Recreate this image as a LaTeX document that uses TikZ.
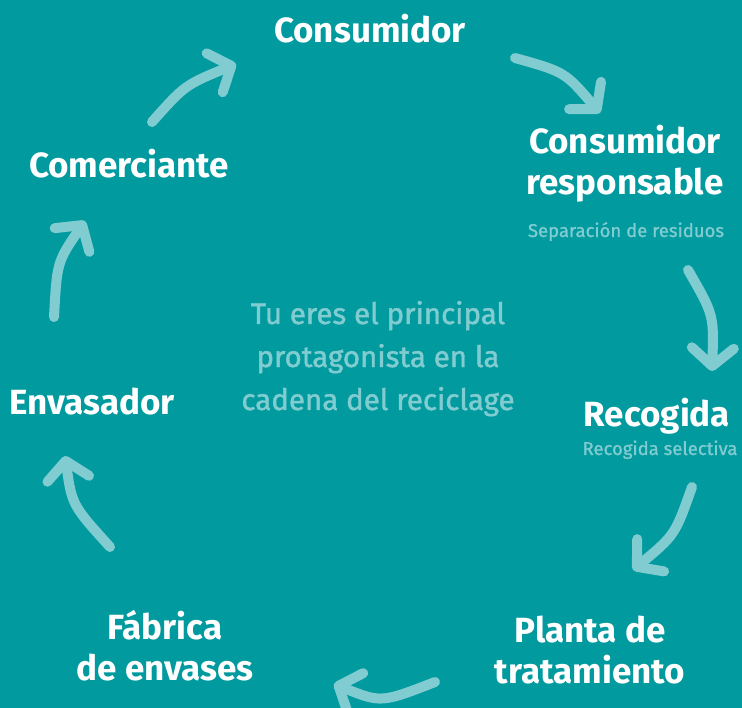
\documentclass[tikz,border=0pt]{standalone}
\usepackage{fontspec}
\setmainfont{Fira Sans}
\usetikzlibrary{arrows.meta}
\definecolor{bg}{RGB}{0,154,159}
\definecolor{lt}{RGB}{128,204,208}
\tikzset{
  title/.style={text=white, font={\bfseries\fontsize{35}{41}\selectfont}, align=center, inner sep=0pt, anchor=base},
  sub/.style={text=lt, font={\addfontfeatures{FakeBold=1.2}\fontsize{18.5}{22}\selectfont}, inner sep=0pt, anchor=base},
  centertext/.style={text=lt, font={\addfontfeatures{FakeBold=1.5}\fontsize{29.5}{43}\selectfont}, align=center, inner sep=0pt, anchor=base},
  flow/.style={draw=lt, line width=10pt, line cap=round, -{Straight Barb[round, length=18pt, width=42pt]}}
}
\begin{document}
\begin{tikzpicture}[x=1pt, y=-1pt]
\fill[bg] (0,0) rectangle (742,708);
\useasboundingbox (0,0) rectangle (742,708);
% labels (multi-line nodes: base = last baseline)
\node[title] (cons) at (370,43) {Consumidor};
\node[title] (resp) at (625,195) {Consumidor\\responsable};
\node[sub] (sep) at (626,237) {Separación de residuos};
\node[title] (rec) at (657,427) {Recogida};
\node[sub] (recsel) at (660,455) {Recogida selectiva};
\node[title] (plan) at (590,683) {Planta de\\tratamiento};
\node[title] (fab) at (165,680) {Fábrica\\de envases};
\node[title] (env) at (92,415) {Envasador};
\node[title] (com) at (129,178) {Comerciante};
\node[centertext] (mid) at (378,410) {Tu eres el principal\\protagonista en la\\cadena del reciclage};
% arrow end points
\coordinate (t1) at (152,122); \coordinate (h1) at (236,64);
\coordinate (t2) at (54,317);  \coordinate (h2) at (85,221);
\coordinate (t3) at (110,547); \coordinate (h3) at (65,456);
\coordinate (t4) at (435,682); \coordinate (h4) at (334,684);
\coordinate (t5) at (692,487); \coordinate (h5) at (633,570);
\coordinate (t6) at (688,270); \coordinate (h6) at (712,371);
\coordinate (t7) at (515,58);  \coordinate (h7) at (600,113);
\draw[flow] (t1) .. controls (185,85) .. (h1);
\draw[flow] (t2) .. controls (57,262) .. (h2);
\draw[flow] (t3) .. controls (72,505) .. (h3);
\draw[flow] (t4) .. controls (381,703) .. (h4);
\draw[flow] (t5) .. controls (675,535) .. (h5);
\draw[flow] (t6) .. controls (714,315) .. (h6);
\draw[flow] (t7) .. controls (565,72) .. (h7);
\end{tikzpicture}
\end{document}
